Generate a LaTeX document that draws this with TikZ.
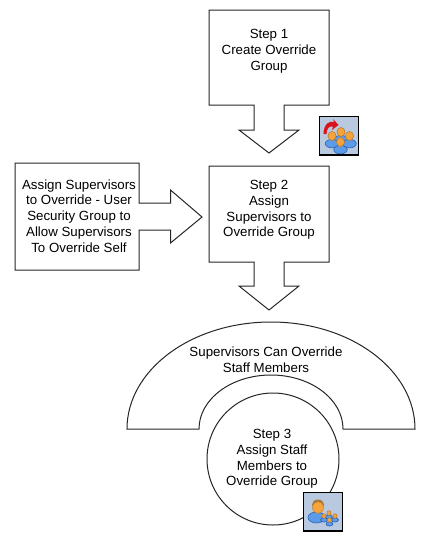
\documentclass[tikz,border=0pt]{standalone}
\usepackage{fontspec}
\setmainfont{Liberation Sans}
\definecolor{iconbg}{HTML}{B9C9E0}
\definecolor{skin}{HTML}{F5A43C}
\definecolor{skinedge}{HTML}{B8762A}
\definecolor{bodyblue}{HTML}{5B9BE8}
\definecolor{bodyedge}{HTML}{2A5FB0}
\definecolor{hair}{HTML}{A87838}
\definecolor{arrowred}{HTML}{D8141C}
\newcommand{\person}[3]{% x, y, head radius
  \fill[bodyblue,draw=bodyedge,line width=.6pt] (#1,#2+#3*1.7) ellipse ({#3*1.5} and {#3*0.95});
  \fill[skin,draw=skinedge,line width=.5pt] (#1,#2) ellipse ({#3*.9} and #3);
}
\tikzset{
  x=1pt,y=-1pt,
  outline/.style={draw=black!85,line width=1pt,line join=miter,fill=white},
  label/.style={align=center,font=\fontsize{13.3}{15.8}\selectfont,text=black,inner sep=0pt},
  iconbox/.style={draw=black,line width=1.2pt,fill=iconbg}
}
\begin{document}
\begin{tikzpicture}
\useasboundingbox (0,0) rectangle (428,549);
\fill[white] (0,0) rectangle (428,549);
% Step 1 box with arrow
\draw[outline] (209,10) -- (329,10) -- (329,105) -- (284,105) -- (284,130) -- (299,130) -- (269,153) -- (239,130) -- (254,130) -- (254,105) -- (209,105) -- cycle;
% Step 2 box with arrow
\draw[outline] (209,166) -- (329,166) -- (329,262) -- (284,262) -- (284,286) -- (299,286) -- (269,310) -- (239,286) -- (254,286) -- (254,262) -- (209,262) -- cycle;
% left box with arrow
\draw[outline] (15,163) -- (139,163) -- (139,203) -- (170.5,203) -- (170.5,190) -- (202,217) -- (170.5,243) -- (170.5,230) -- (139,230) -- (139,270) -- (15,270) -- cycle;
% half donut
\draw[outline] (127,429) arc[start angle=180,end angle=360,x radius=144,y radius=107] -- (343,429) arc[start angle=360,end angle=180,x radius=72,y radius=54] -- cycle;
% circle
\draw[outline] (273,459) circle (66);
% texts
\node[label] (s1) at (269,51) {Step 1\\Create Override\\Group};
\node[label] (s2) at (269,210) {Step 2\\Assign\\Supervisors to\\Override Group};
\node[label] (sa) at (79,216) {Assign Supervisors\\to Override - User\\Security Group to\\Allow Supervisors\\To Override Self};
\node[label] (sc) at (266,360) {Supervisors Can Override\\Staff Members};
\node[label] (s3) at (272,459) {Step 3\\Assign Staff\\Members to\\Override Group};
% icon 1
\draw[iconbox] (319.5,116.5) rectangle (358.5,155);
\fill[arrowred] (323.5,134) .. controls (323.5,125) and (329,120) .. (334,122) -- (333,119) -- (338.5,125) -- (332,130) -- (333,126.5) .. controls (329,125.5) and (326.5,129) .. (326.5,134) -- cycle;
\person{341}{132}{4.5}
\person{332}{136}{4.5}
\person{349.5}{136}{4.5}
\person{340.5}{142}{4.5}
% icon 2
\draw[iconbox] (303.5,492.5) rectangle (342.5,531);
\fill[bodyblue,draw=bodyedge,line width=.6pt] (316.5,517.5) ellipse (8.5 and 5.5);
\fill[hair] (318,504.5) ellipse (6 and 5);
\fill[skin,draw=skinedge,line width=.4pt] (318,507.5) ellipse (5.5 and 6);
\person{329}{513}{2.3}
\person{324}{516}{2.3}
\person{335}{516}{2.3}
\person{329.5}{520}{2.3}
\end{tikzpicture}
\end{document}
